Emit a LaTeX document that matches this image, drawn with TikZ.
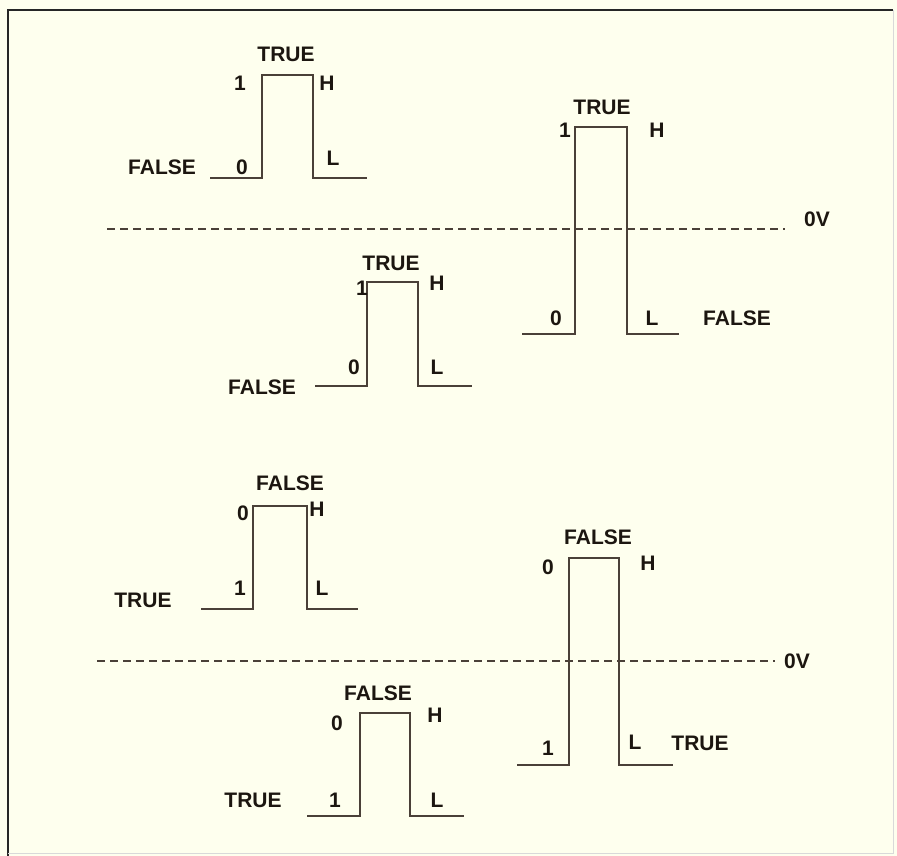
\documentclass[tikz,border=0pt]{standalone}
\usepackage{fontspec}
\setmainfont{Liberation Sans}
\begin{document}
\begin{tikzpicture}[x=1pt,y=-1pt,
  wave/.style={draw=wavecol,line width=1.8pt,line join=miter},
  zeroline/.style={draw=wavecol,line width=1.4pt,dash pattern=on 8pt off 5pt},
  lbl/.style={text=txtcol,font=\fontsize{21}{21}\selectfont\bfseries,inner sep=0pt,anchor=center}]
\definecolor{bgcol}{HTML}{FEFFEE}
\definecolor{wavecol}{HTML}{4A4038}
\definecolor{txtcol}{HTML}{1C1610}
\useasboundingbox (0,0) rectangle (897,856);
\fill[bgcol] (0,0) rectangle (897,856);
% frame
\draw[draw=black!85,line width=1.6pt] (8,856) -- (8,10) -- (893,10);
\draw[draw=black!15,line width=1pt] (893,10) -- (893,853) -- (8,853);
% zero-volt lines
\draw[zeroline] (107,229) -- (785,229);
\node[lbl] (ov1) at (817,219) {0V};
\draw[zeroline] (97,661) -- (775,661);
\node[lbl] (ov2) at (797,661) {0V};
% waveform 1
\draw[wave] (210,178) -- (262,178) -- (262,75) -- (313,75) -- (313,178) -- (367,178);
\node[lbl] (w1t) at (286,54) {TRUE};
\node[lbl] (w1a) at (240,83) {1};
\node[lbl] (w1h) at (327,83) {H};
\node[lbl] (w1f) at (162,167) {FALSE};
\node[lbl] (w1b) at (242,167) {0};
\node[lbl] (w1l) at (333,158) {L};
% waveform 2
\draw[wave] (522,334) -- (575,334) -- (575,127) -- (627,127) -- (627,334) -- (679,334);
\node[lbl] (w2t) at (602,107) {TRUE};
\node[lbl] (w2a) at (565,130) {1};
\node[lbl] (w2h) at (657,130) {H};
\node[lbl] (w2b) at (556,318) {0};
\node[lbl] (w2l) at (652,318) {L};
\node[lbl] (w2f) at (737,318) {FALSE};
% waveform 3
\draw[wave] (315,386) -- (367,386) -- (367,282) -- (418,282) -- (418,386) -- (472,386);
\node[lbl] (w3t) at (391,263) {TRUE};
\node[lbl] (w3a) at (362,288) {1};
\node[lbl] (w3h) at (437,283) {H};
\node[lbl] (w3b) at (354,367) {0};
\node[lbl] (w3l) at (437,367) {L};
\node[lbl] (w3f) at (262,387) {FALSE};
% waveform 4
\draw[wave] (201,609) -- (253,609) -- (253,506) -- (307,506) -- (307,609) -- (358,609);
\node[lbl] (w4t) at (290,483) {FALSE};
\node[lbl] (w4a) at (243,513) {0};
\node[lbl] (w4h) at (317,509) {H};
\node[lbl] (w4b) at (240,588) {1};
\node[lbl] (w4l) at (322,588) {L};
\node[lbl] (w4f) at (143,600) {TRUE};
% waveform 5
\draw[wave] (307,816) -- (360,816) -- (360,713) -- (410,713) -- (410,816) -- (464,816);
\node[lbl] (w5t) at (378,693) {FALSE};
\node[lbl] (w5a) at (337,723) {0};
\node[lbl] (w5h) at (435,715) {H};
\node[lbl] (w5b) at (335,800) {1};
\node[lbl] (w5l) at (437,800) {L};
\node[lbl] (w5f) at (253,800) {TRUE};
% waveform 6
\draw[wave] (517,765) -- (569,765) -- (569,558) -- (619,558) -- (619,765) -- (673,765);
\node[lbl] (w6t) at (598,537) {FALSE};
\node[lbl] (w6a) at (548,567) {0};
\node[lbl] (w6h) at (648,563) {H};
\node[lbl] (w6b) at (548,748) {1};
\node[lbl] (w6l) at (635,742) {L};
\node[lbl] (w6f) at (700,743) {TRUE};
\end{tikzpicture}
\end{document}
